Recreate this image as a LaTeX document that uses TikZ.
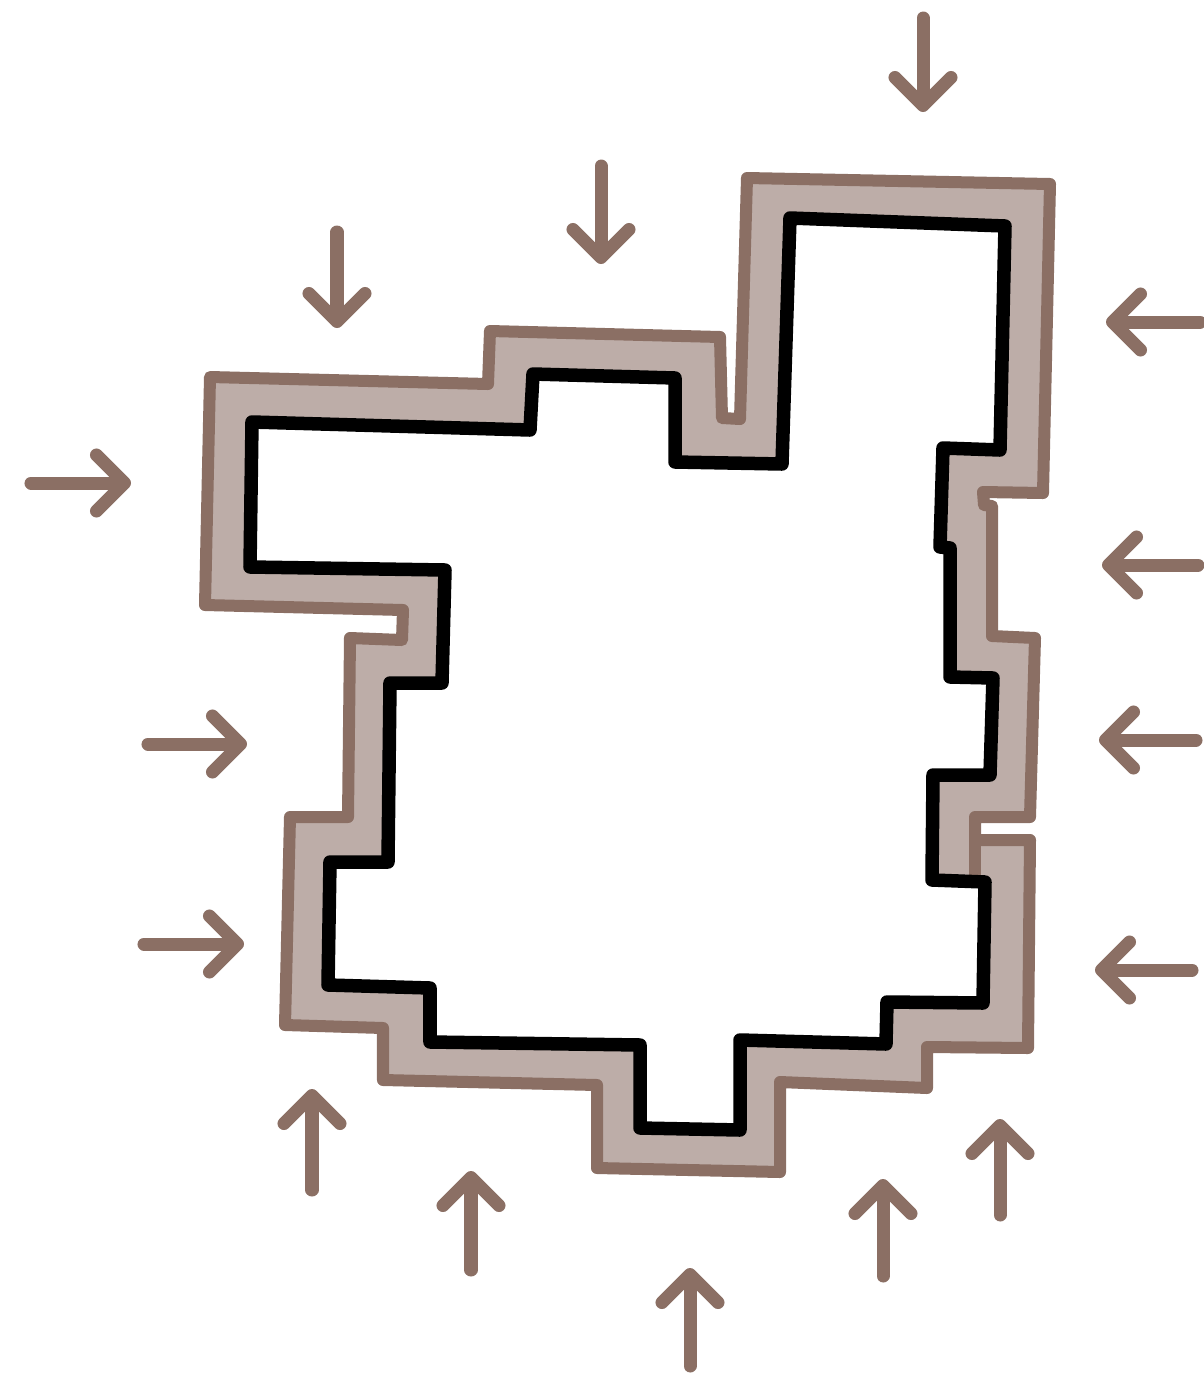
\documentclass[tikz,border=0pt]{standalone}
\usepackage{tikz}
\usetikzlibrary{arrows.meta}
\definecolor{wallBrown}{RGB}{139,111,100}
\definecolor{wallFill}{RGB}{189,173,168}

\begin{document}
\begin{tikzpicture}[
    x=0.01cm, y=-0.01cm,
    outer wall/.style={draw=wallBrown, line width=1.2mm, fill=wallFill, line join=round},
    inner wall/.style={draw=black, line width=1.35mm, fill=white, line join=round},
    load arrow/.style={draw=wallBrown, line width=1.3mm, line cap=round, -{Straight Barb[length=2.8mm, width=5.6mm, round]}}
]
  \useasboundingbox (0,0) rectangle (1204,1375);

  % outer face of the wall
  \draw[outer wall] (210,377) -- (488,384) -- (490,331) -- (720,337) -- (722,418) -- (740,419)
    -- (747,178) -- (1050,184) -- (1043,493) -- (983,492) -- (984,505) -- (992,506)
    -- (992,636) -- (1035,638) -- (1030,817) -- (975,817) -- (975,840) -- (1030,840)
    -- (1028,1048) -- (927,1047) -- (927,1088) -- (780,1082) -- (780,1172) -- (597,1168)
    -- (597,1085) -- (383,1080) -- (383,1028) -- (285,1025) -- (290,817) -- (348,817)
    -- (350,638) -- (402,640) -- (403,610) -- (205,605) -- cycle;
  \draw[wallBrown, line width=1.2mm] (975,840) -- (975,876);

  % inner face
  \draw[inner wall] (252,422) -- (530,430) -- (533,374) -- (675,378) -- (675,462) -- (782,464)
    -- (790,218) -- (1005,226) -- (1000,450) -- (943,448) -- (940,547) -- (950,548)
    -- (950,677) -- (993,678) -- (990,775) -- (933,775) -- (932,880) -- (985,882)
    -- (983,1003) -- (887,1002) -- (886,1044) -- (740,1040) -- (740,1130) -- (640,1128)
    -- (640,1045) -- (430,1042) -- (430,988) -- (328,985) -- (330,862) -- (388,862)
    -- (390,683) -- (442,683) -- (445,570) -- (250,567) -- cycle;

  % pressure from outside
  \foreach \ax/\ay/\bx/\by in {923/18/923/112, 601/166/601/264, 337/232/337/328,
      1200/322/1106/322, 1198/565/1102/565, 1196/740/1099/740, 1192/970/1095/970,
      31/483/131/483, 148/744/247/744, 144/944/244/944,
      312/1190/312/1089, 471/1270/471/1171, 690/1366/690/1268, 883/1276/883/1179, 1000/1215/1000/1119}
    \draw[load arrow] (\ax,\ay) -- (\bx,\by);
\end{tikzpicture}
\end{document}
